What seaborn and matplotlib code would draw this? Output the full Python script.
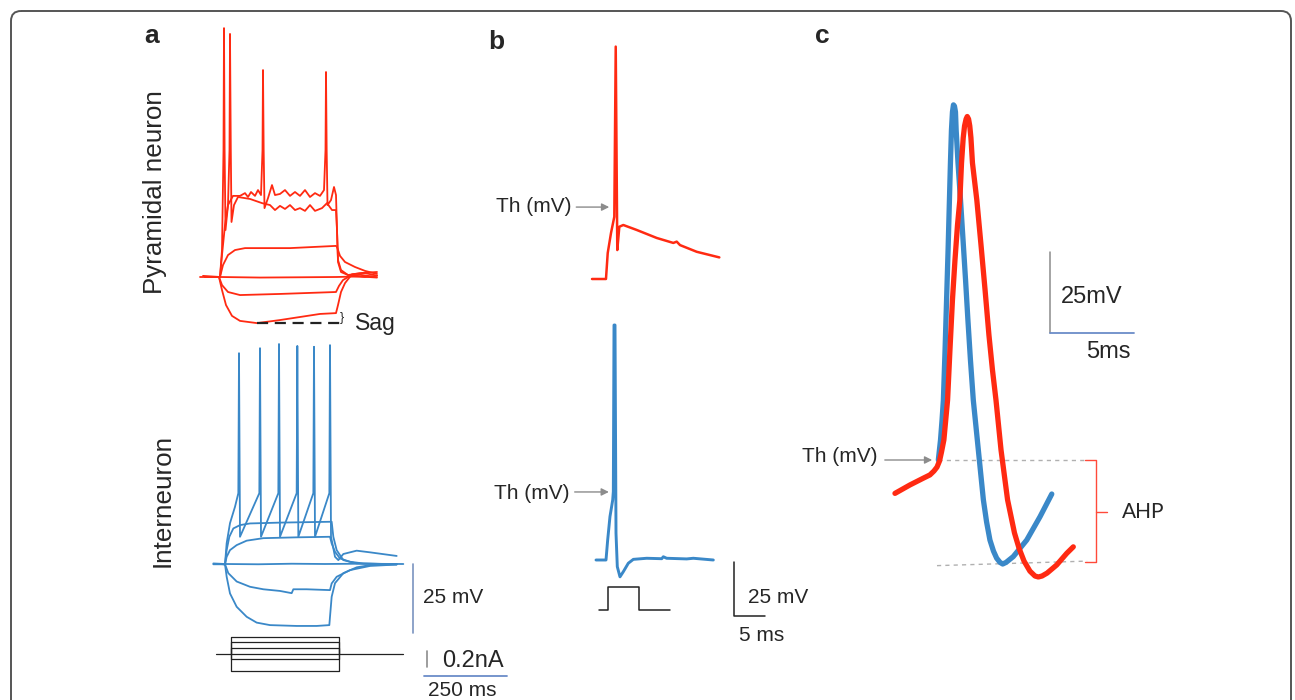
import numpy as np
import pandas as pd
import matplotlib
matplotlib.use("Agg")
import matplotlib.pyplot as plt
import seaborn as sns
from matplotlib.patches import FancyBboxPatch

# ---------------- data ----------------
# Panel a, pyramidal neuron: current-clamp sweeps (time ms, membrane potential mV)
pyr_t1 = [-60, -3, 6, 18, 36, 60, 111, 180, 240, 300, 348, 354, 363, 375, 396, 435, 471]
pyr_v1 = [-70, -70, -74.7, -80.1, -84.0, -85.8, -86.6, -85.5, -84.4, -83.3, -83.0, -80.1, -75.4, -72.2, -69.0, -68.6, -69.5]
pyr_t2 = [-45, -3, 6, 24, 60, 180, 348, 357, 369, 390, 420, 456]
pyr_v2 = [-70, -70, -72.9, -75.4, -76.5, -76.1, -75.4, -73.2, -71.1, -69.6, -69.2, -69.8]
pyr_t3 = [-51, 0, 120, 240, 350, 420, 471]
pyr_v3 = [-69.6, -70, -70.2, -70.1, -70, -69.8, -70.2]
pyr_t4 = [-30, 0, 9, 24, 45, 75, 210, 348, 351, 360, 375, 405, 435, 471]
pyr_v4 = [-70, -70, -65.7, -62.1, -60.3, -59.6, -59.6, -58.8, -59.2, -62.4, -64.6, -66.4, -67.8, -68.9]
pyr_t5 = [-15, 0, 6, 15, 24, 28.5, 30, 32.4, 34.5, 42, 54, 90, 126, 150, 165, 180, 195, 210, 225, 240,
          255, 270, 285, 306, 321, 336, 348, 351, 354, 363, 384, 420, 471]
pyr_v5 = [-70, -70, -62.1, -51.3, -44.1, -24.3, 17.5, -24.3, -50.2, -44.1, -41.2, -41.9, -43.4, -44.1, -45.9,
          -44.4, -45.5, -44.1, -45.9, -45.2, -46.2, -44.1, -46.2, -45.2, -43.4, -45.9, -45.9, -53.1, -63.9,
          -67.5, -69.3, -68.6, -68.2]
pyr_t6 = [-45, 0, 6, 10.5, 12, 13.8, 16.5, 24, 39, 60, 75, 84, 93, 105, 114, 123, 127.5, 129, 131, 133.5,
          144, 156, 165, 180, 195, 210, 225, 240, 255, 270, 285, 300, 312, 316.5, 318, 320, 322.5, 333, 342,
          348, 351, 354, 363, 390, 435, 471]
pyr_v6 = [-70, -70, -60.3, -24.3, 19.6, -24.3, -53.1, -44.1, -40.8, -40.8, -39.8, -41.2, -39.4, -40.8, -38.7,
          -40.5, -24.3, 4.5, -24.3, -45.2, -41.6, -36.9, -40.5, -40.1, -38.7, -40.8, -39.4, -40.8, -38.7, -41.2,
          -39.8, -40.8, -38.7, -24.3, 3.8, -24.3, -44.1, -42.3, -37.6, -40.5, -53.1, -64.6, -68.2, -69.6, -70,
          -69.6]

# Panel a, interneuron sweeps
int_t1 = [-35, 0, 5, 15, 35, 65, 95, 135, 215, 275, 313, 315, 320, 330, 355, 395, 435, 515]
int_v1 = [-65.1, -65.1, -69.6, -75.6, -80.4, -84.0, -86.1, -87.0, -87.3, -87.3, -87.0, -84.0, -76.8, -71.9,
          -68.3, -66.2, -65.4, -65.1]
int_t2 = [-20, 0, 10, 35, 75, 115, 165, 200, 205, 245, 315, 320, 335, 375, 435, 515]
int_v2 = [-65, -65.1, -68.3, -71.3, -73.2, -74.1, -74.7, -75.5, -74.1, -74.1, -74.4, -72.0, -69.6, -67.2,
          -65.7, -65.2]
int_t3 = [-35, 0, 100, 200, 300, 400, 535]
int_v3 = [-64.8, -65, -65.1, -64.9, -65, -64.9, -65]
int_t4 = [-10, 0, 5, 15, 35, 65, 115, 215, 315, 320, 330, 345, 375, 415, 515]
int_v4 = [-65, -65.1, -62.4, -60.0, -58.2, -56.6, -55.7, -55.4, -55.2, -57.6, -60.6, -63.0, -64.2, -64.8, -65.1]
int_t5 = [-10, 0, 5, 13, 25, 45, 75, 165, 315, 320, 325, 335, 355, 395, 515]
int_v5 = [-65, -65.1, -60.0, -55.2, -52.2, -51.0, -50.4, -50.1, -49.8, -49.8, -55.2, -60.0, -63.6, -64.8, -65.1]
int_t6 = [-10, 0, 5, 15, 30, 40, 42, 45, 103, 105, 108, 160, 162, 165, 215, 217, 220, 265, 267, 270,
          313, 315, 318, 322, 330, 340, 355, 395, 435, 515]
int_v6 = [-65, -65.1, -57.5, -50.3, -44.4, -39.5, 10.9, -55.2, -39.5, 12.7, -55.2, -39.5, 14.2, -55.2, -39.5,
          13.5, -55.2, -39.5, 13.2, -55.2, -39.5, 13.8, -55.2, -57.5, -62.4, -63.6, -61.4, -60.2, -60.8, -62.1]

# Panel a, injected current steps (nA)
step_levels = [0.22, 0.15, 0.08, 0.0, -0.07, -0.22]
step_on, step_off = 18, 343          # ms
step_start, step_end = -27, 534      # ms

# Panel b, single spikes (time ms, mV)
b_pyr_t = [0, 2.25, 2.53, 3.06, 3.59, 3.82, 4.07, 4.40, 5.04, 7.20, 10.42, 13.09, 13.64, 14.17, 16.86, 20.50]
b_pyr_v = [-70, -70, -58.0, -48.7, -41.2, 37.6, -56.6, -45.8, -45.0, -47.3, -51.0, -53.3, -52.7, -54.3,
           -57.4, -60.0]
b_int_t = [0, 1.61, 1.88, 2.25, 2.69, 2.79, 2.90, 3.06, 3.22, 3.43, 3.86, 4.40, 5.20, 6.01, 8.16, 10.58,
           10.84, 11.38, 14.60, 15.67, 18.89]
b_int_v = [-65, -65, -55.7, -44.9, -37.2, -33.3, 43.8, 43.8, -52.6, -68.1, -72.8, -70.4, -66.5, -64.7, -64.2,
           -64.4, -63.5, -64.2, -64.5, -64.2, -65]
b_stim_t = [0.48, 1.93, 1.93, 6.92, 6.92, 11.91]
b_stim_i = [0, 0, 1, 1, 0, 0]
b_th_pyr = (3.22, -36.7)
b_th_int = (2.52, -33.5)

# Panel c, overlaid action potentials (time ms, mV)
c_int_t = [0.02, 0.15, 0.24, 0.32, 0.42, 0.51, 0.60, 0.68, 0.74, 0.80, 0.86, 0.92, 0.98, 1.04, 1.08, 1.19,
           1.34, 1.49, 1.64, 1.78, 1.93, 2.10, 2.40, 2.70, 2.89, 3.09, 3.30, 3.49, 3.69, 3.85, 4.05, 4.48,
           5.28, 6.07, 6.77]
c_int_v = [-40, -33.8, -27.7, -21.5, -6.1, 9.4, 24.8, 40.2, 51.7, 61.8, 67.4, 69.6, 69.2, 67.4, 61.8, 51.7,
           40.2, 27.9, 15.5, 3.2, -9.1, -21.5, -36.9, -52.3, -59.1, -64.7, -68.1, -70.3, -71.6, -72.1, -71.6,
           -69.8, -64.7, -57.5, -50.5]
c_pyr_t = [-2.56, -1.67, -0.87, -0.48, -0.24, -0.06, 0.09, 0.21, 0.35, 0.57, 0.71, 0.86, 1.01, 1.16, 1.30,
           1.40, 1.50, 1.58, 1.67, 1.74, 1.82, 1.89, 1.96, 2.05, 2.31, 2.56, 2.80, 3.03, 3.24, 3.45, 3.75,
           4.14, 4.55, 4.82, 5.12, 5.47, 5.77, 5.97, 6.19, 6.49, 7.06, 7.66, 8.05]
c_pyr_v = [-50.3, -47.7, -45.6, -44.6, -43.4, -42.2, -40.3, -37.5, -33.8, -21.5, -6.1, 9.4, 21.7, 32.5, 40.2,
           51.7, 59.4, 63.1, 65.2, 66.0, 65.2, 63.1, 59.4, 51.7, 40.2, 26.3, 12.5, -1.4, -12.2, -21.5, -36.9,
           -52.3, -62.5, -67.2, -71.2, -74.3, -75.8, -76.1, -75.8, -74.9, -72.4, -68.8, -66.8]

# ---------------- styling ----------------
RED = "#ff2a12"
BLUE = "#3a88c8"
BAR_BLUE = "#6b8cc8"
GRAY = "#8c8c8c"
FONT = ["Liberation Sans", "DejaVu Sans"]

sns.set_theme(style="white")
plt.rcParams["font.family"] = FONT

W, H = 1295, 700
fig = plt.figure(figsize=(W / 100, H / 100), dpi=100)

_axes = []


def overlay(x0_px, x0, xs, y0_px, y0, ys):
    """Transparent full-figure axes with a linear data scale anchored at a pixel."""
    ax = fig.add_axes([0, 0, 1, 1])
    ax.set_axis_off()
    ax.patch.set_alpha(0)
    lims = ((x0 - x0_px * xs, x0 + (W - x0_px) * xs), (y0 - (H - y0_px) * ys, y0 + y0_px * ys))
    _axes.append((ax, lims))
    return ax


def trace(ax, t, v, color, lw, **kw):
    sns.lineplot(x=t, y=v, ax=ax, color=color, linewidth=lw, sort=False, estimator=None,
                 legend=False, solid_joinstyle="round", solid_capstyle="round", **kw)


def txt(x_px, y_px, s, size, **kw):
    fig.text(x_px / W, 1 - y_px / H, s, fontsize=size, **kw)


# background frame
bg = fig.add_axes([0, 0, 1, 1])
bg.set_xlim(0, W)
bg.set_ylim(H, 0)
bg.set_axis_off()
bg.add_patch(FancyBboxPatch((11, 11), 1280, 720, boxstyle="round,pad=0,rounding_size=10",
                            fill=False, edgecolor="#555555", linewidth=1.4))

# ---------------- panel a ----------------
ax_pyr = overlay(220, 0, 3.0, 277, -70, 0.36)
for t, v in [(pyr_t1, pyr_v1), (pyr_t2, pyr_v2), (pyr_t3, pyr_v3), (pyr_t4, pyr_v4),
             (pyr_t5, pyr_v5), (pyr_t6, pyr_v6)]:
    trace(ax_pyr, t, v, RED, 1.3)
i_min = int(np.argmin(pyr_v1))
sag_v = min(pyr_v1)
ax_pyr.plot([pyr_t1[i_min], pyr_t1[10] + 12], [sag_v, sag_v], color="#222222", lw=1.6,
            dashes=(5, 3))
ax_pyr.text(pyr_t1[10] + 10, (sag_v + pyr_v1[10]) / 2, "}", fontsize=9, ha="left", va="center",
            color="#222222")
ax_pyr.text(pyr_t1[10] + 57, sag_v - 2.6, "Sag", fontsize=16.5, ha="left", va="baseline")

ax_int = overlay(225, 0, 3.0, 564, -65, 0.36)
for t, v in [(int_t1, int_v1), (int_t2, int_v2), (int_t3, int_v3), (int_t4, int_v4),
             (int_t5, int_v5), (int_t6, int_v6)]:
    trace(ax_int, t, v, BLUE, 1.3)
# 25 mV scale bar
ax_int.plot([564, 564], [-65, -90], color="#7a93c0", lw=1.2)
ax_int.text(594, -79.0, "25 mV", fontsize=15, ha="left", va="baseline")

ax_cur = overlay(225, 0, 3.0, 654, 0.0, 1 / 78.5)
for lev in step_levels:
    if lev == 0:
        tt = [step_start, step_on, step_on, step_off, step_off, step_end]
        ii = [0, 0, lev, lev, 0, 0]
    else:
        tt = [step_on, step_on, step_off, step_off]
        ii = [0, lev, lev, 0]
    sns.lineplot(x=tt, y=ii, ax=ax_cur, color="#222222", linewidth=0.9, sort=False,
                 estimator=None, legend=False)
ax_cur.plot([607, 607], [0.038, 0.038 - 0.2], color=GRAY, lw=1.2)
ax_cur.text(650, -0.162, "0.2nA", fontsize=17, ha="left", va="baseline")
ax_cur.plot([597, 597 + 250], [-0.28, -0.28], color=BAR_BLUE, lw=1.3)
ax_cur.text(610, -0.54, "250 ms", fontsize=15, ha="left", va="baseline")

# ---------------- panel b ----------------
ax_b1 = overlay(592, 0, 0.161, 279, -70, 0.463)
trace(ax_b1, b_pyr_t, b_pyr_v, RED, 1.8)
ax_b1.annotate("", xy=b_th_pyr, xytext=(b_th_pyr[0] - 6.2, b_th_pyr[1]),
               arrowprops=dict(arrowstyle="-|>", color=GRAY, lw=1.0, mutation_scale=11))
ax_b1.text(b_th_pyr[0] - 6.6, b_th_pyr[1] - 2.2, "Th (mV)", fontsize=15, ha="right", va="baseline")

ax_b2 = overlay(596, 0, 0.161, 560, -65, 0.463)
trace(ax_b2, b_int_t, b_int_v, BLUE, 2.1)
ax_b2.annotate("", xy=b_th_int, xytext=(b_th_int[0] - 6.4, b_th_int[1]),
               arrowprops=dict(arrowstyle="-|>", color=GRAY, lw=1.0, mutation_scale=11))
ax_b2.text(b_th_int[0] - 6.8, b_th_int[1] - 3.2, "Th (mV)", fontsize=15, ha="right", va="baseline")
ax_b2.plot([22.2, 22.2, 27.2], [-65.9, -90.9, -90.9], color="#222222", lw=1.1)
ax_b2.text(24.5, -85.0, "25 mV", fontsize=15, ha="left", va="baseline")
ax_b2.text(23.0, -102.5, "5 ms", fontsize=15, ha="left", va="baseline")

ax_b3 = overlay(596, 0, 0.161, 610, 0, 1 / 23)
sns.lineplot(x=b_stim_t, y=b_stim_i, ax=ax_b3, color="#222222", linewidth=1.1, sort=False,
             estimator=None, legend=False)

# ---------------- panel c ----------------
ax_c = overlay(938, 0, 0.0595, 460, -40, 0.3086)
th_v = c_int_v[0]
trough_v = min(c_int_v)
end_t = 8.87
ax_c.plot([c_int_t[0], end_t], [th_v, th_v], color="#b0b0b0", lw=1.0, dashes=(3, 3))
ax_c.plot([-0.06, end_t], [trough_v - 0.5, trough_v + 0.9], color="#b0b0b0", lw=1.0, dashes=(3, 3))
trace(ax_c, c_int_t, c_int_v, BLUE, 3.8)
trace(ax_c, c_pyr_t, c_pyr_v, RED, 3.8)
mid_v = (th_v + trough_v) / 2
ax_c.plot([end_t - 0.1, end_t + 0.55, end_t + 0.55, end_t - 0.1], [th_v, th_v, trough_v + 0.5, trough_v + 0.5],
          color="#ff4a3a", lw=1.0)
ax_c.plot([end_t + 0.55, end_t + 1.2], [mid_v, mid_v], color="#ff4a3a", lw=1.0)
ax_c.text(end_t + 2.1, mid_v - 2.0, "AHP", fontsize=15, ha="left", va="baseline",
          family=["Lato", "DejaVu Sans"])
ax_c.annotate("", xy=(-0.18, th_v), xytext=(-3.33, th_v),
              arrowprops=dict(arrowstyle="-|>", color=GRAY, lw=1.0, mutation_scale=11))
ax_c.text(-3.57, th_v - 0.5, "Th (mV)", fontsize=15, ha="right", va="baseline")
ax_c.plot([6.66, 6.66], [24.2, -0.8], color=GRAY, lw=1.1)
ax_c.plot([6.66, 11.66], [-0.8, -0.8], color=BAR_BLUE, lw=1.3)
ax_c.text(7.3, 8.4, "25mV", fontsize=17, ha="left", va="baseline")
ax_c.text(8.8, -8.5, "5ms", fontsize=17, ha="left", va="baseline")

for ax, (xl, yl) in _axes:
    ax.set_xlim(*xl)
    ax.set_ylim(*yl)

# ---------------- labels ----------------
txt(144, 43, "a", 19, fontweight="bold", ha="left", va="baseline")
txt(488, 49, "b", 19, fontweight="bold", ha="left", va="baseline")
txt(815, 43, "c", 19, fontweight="bold", ha="left", va="baseline")
txt(155, 192, "Pyramidal neuron", 18.7, rotation=90, ha="center", va="center")
txt(163, 500, "Interneuron", 18.7, rotation=90, ha="center", va="center")

fig.savefig("out.png", dpi=100)
